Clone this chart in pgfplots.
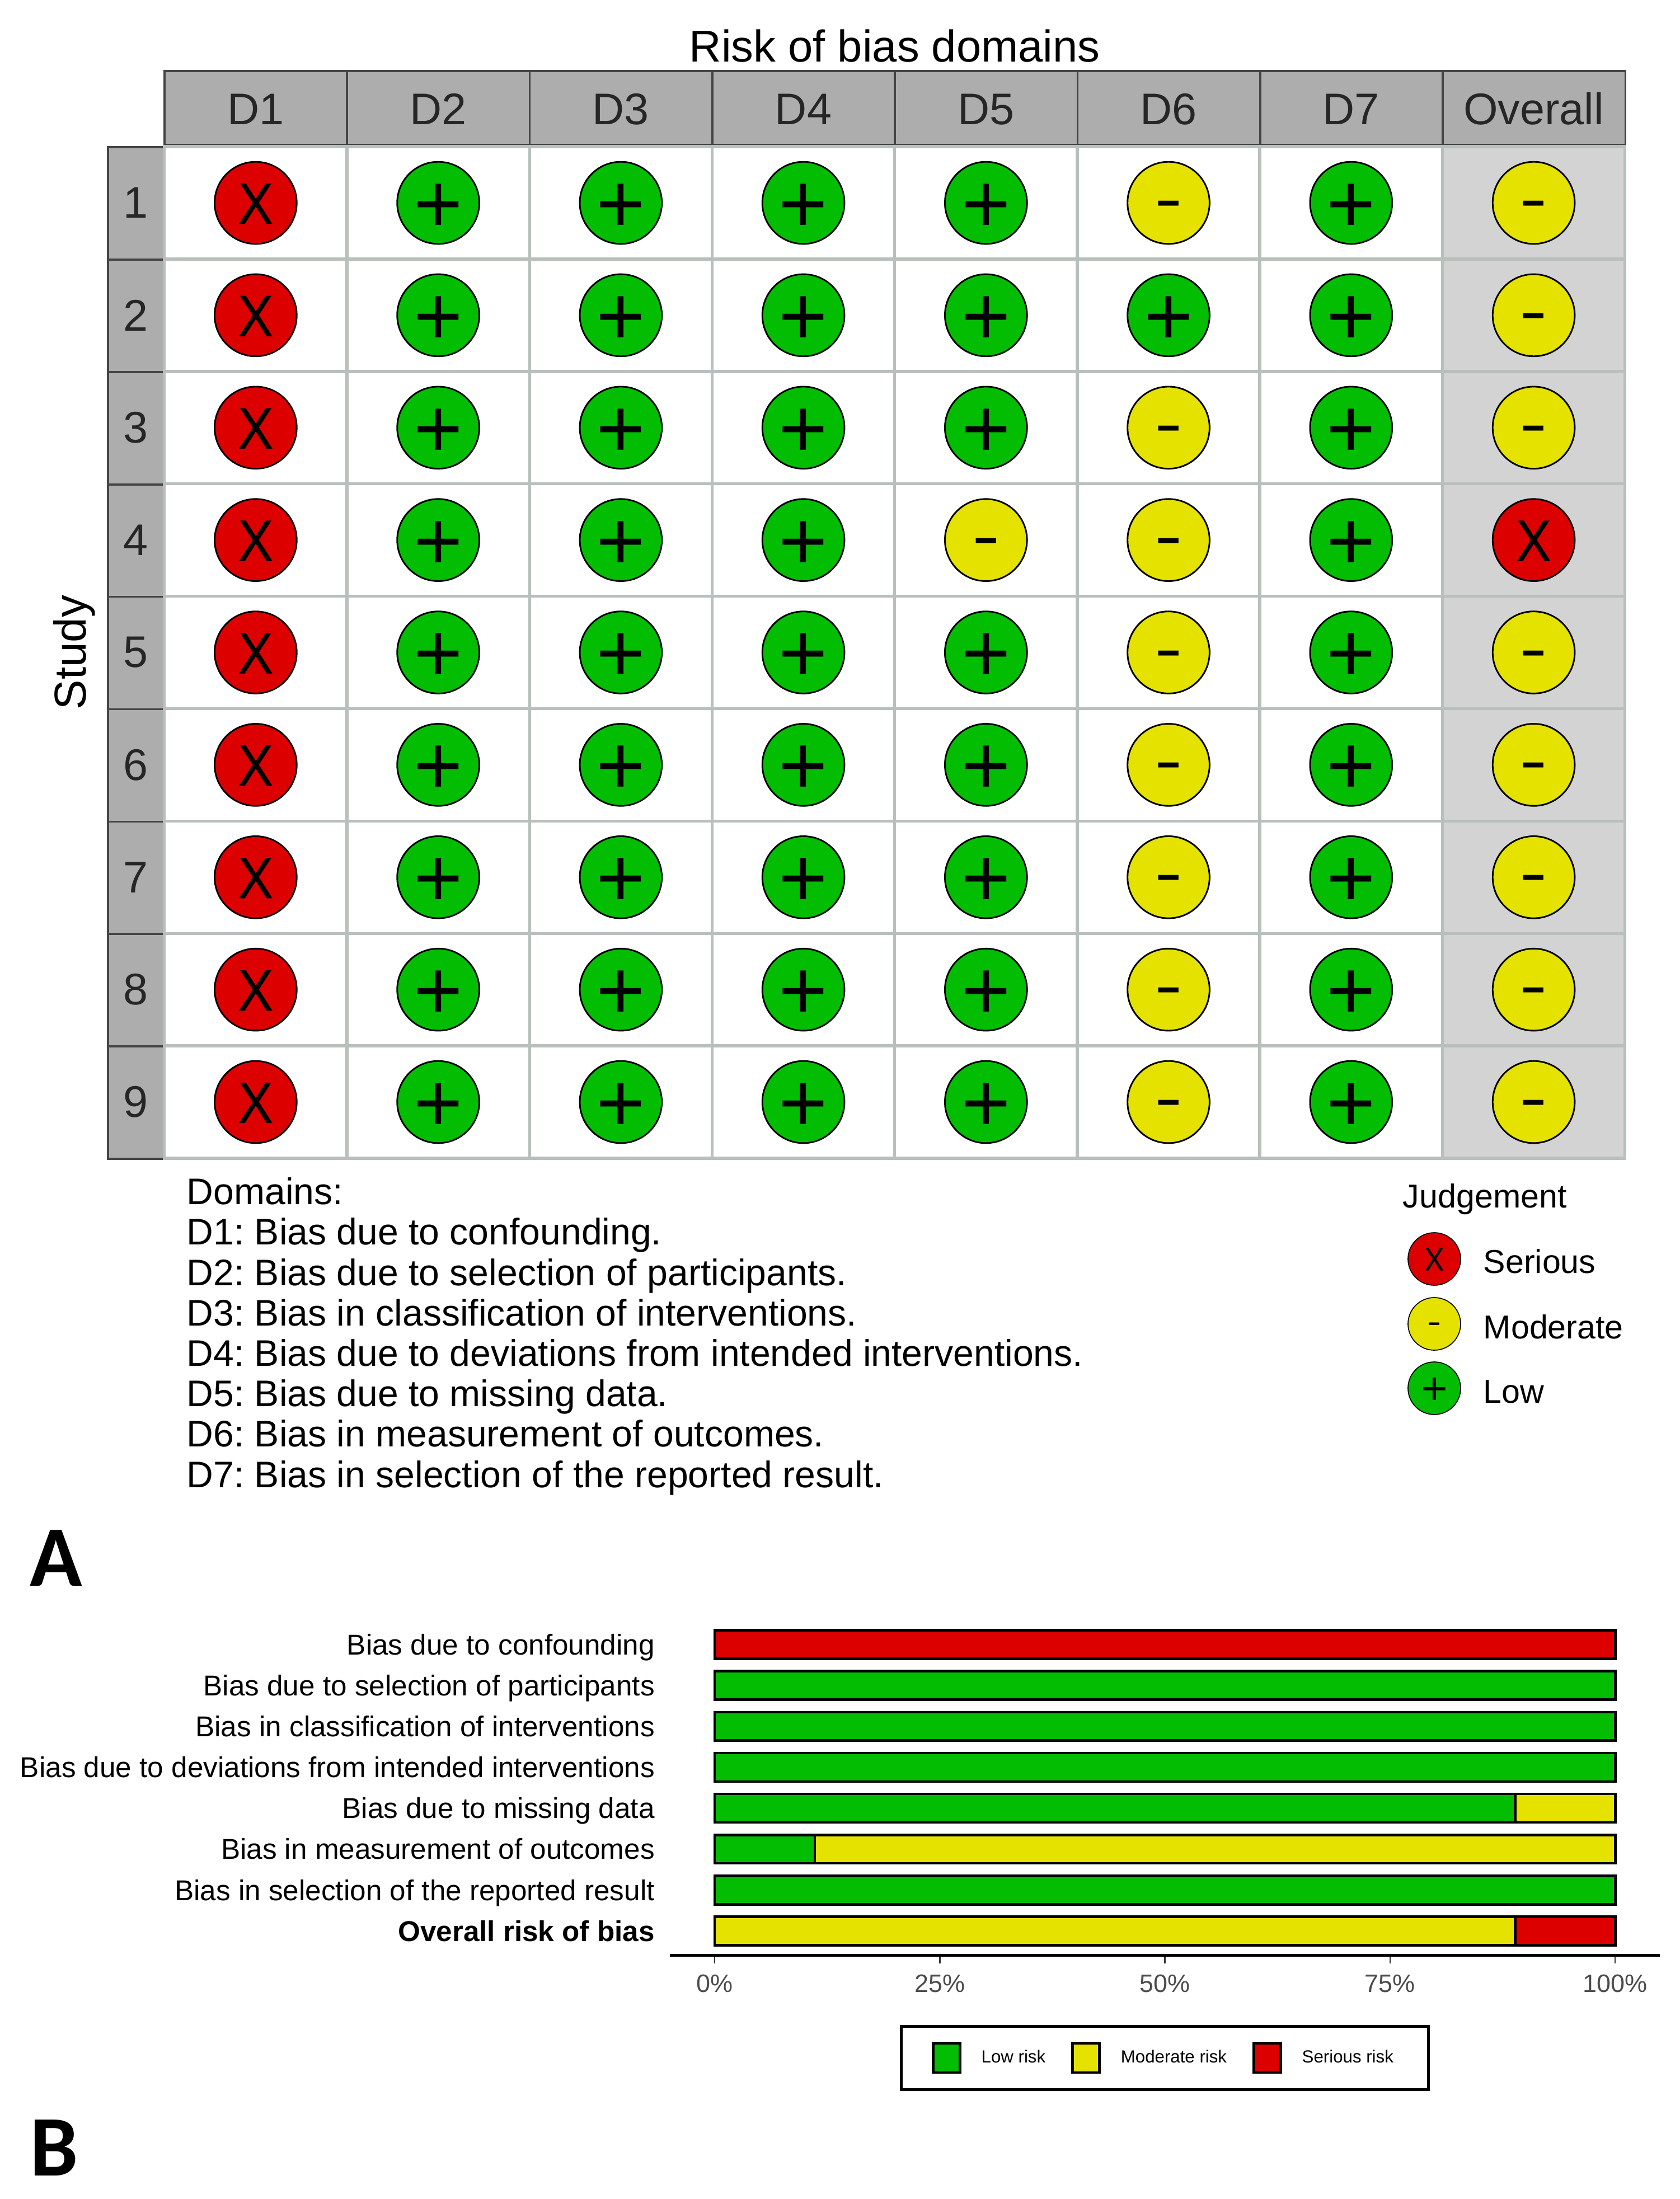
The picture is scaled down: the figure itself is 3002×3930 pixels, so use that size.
\documentclass[border=0pt]{standalone}
\usepackage{fontspec}
\setmainfont{Liberation Sans}
\newfontfamily\carlito{Carlito}
\newfontfamily\xglyph[FakeStretch=0.9,FakeBold=0.6]{Liberation Sans}
\newfontfamily\minusglyph[FakeStretch=1.32]{Liberation Sans}
\usepackage{pgfplots}
\pgfplotsset{compat=1.18}
\definecolor{rd}{HTML}{DD0000}
\definecolor{gn}{HTML}{02BD02}
\definecolor{yl}{HTML}{E5E200}
\definecolor{stripfill}{HTML}{ADADAD}
\definecolor{stripline}{HTML}{454545}
\definecolor{cellline}{HTML}{B7C0BA}
\definecolor{overallfill}{HTML}{D3D3D3}
% 1 px of the reference = 0.24pt
\pgfplotsset{
  seriousmark/.style={only marks,mark=*,mark size=17.6pt,mark options={fill=rd,draw=black,line width=0.7pt},
    nodes near coords={X},nodes near coords style={anchor=base,inner sep=0pt,yshift=-8.95pt,text=black,font=\xglyph\fontsize{25}{25}\selectfont}},
  moderatemark/.style={only marks,mark=*,mark size=17.6pt,mark options={fill=yl,draw=black,line width=0.7pt},
    nodes near coords={-},nodes near coords style={anchor=base,inner sep=0pt,yshift=-7.45pt,text=black,font=\minusglyph\fontsize{27}{27}\selectfont}},
  lowmark/.style={only marks,mark=*,mark size=17.6pt,mark options={fill=gn,draw=black,line width=0.7pt},
    nodes near coords={+},nodes near coords style={anchor=base,inner sep=0pt,yshift=-12.7pt,text=black,font=\fontsize{36}{36}\selectfont}},
}
\begin{document}
\begin{tikzpicture}
\begin{scope}[x=0.24pt,y=-0.24pt]
\path (0,0) rectangle (3002,3930);
% header and study strips
\foreach \i in {0,...,7}
  \draw[fill=stripfill,draw=stripline,line width=0.9pt] ({294+\i*326.3},127) rectangle ({294+(\i+1)*326.3},259);
\foreach \i in {0,...,8}
  \draw[fill=stripfill,draw=stripline,line width=0.9pt] (193,{263+\i*200.9}) rectangle (293,{263+(\i+1)*200.9});
\node[anchor=base west,inner sep=0pt,align=left,font=\frenchspacing\fontsize{15.86}{17.33}\selectfont] at (333,2658)
  {Domains:\\D1: Bias due to confounding.\\D2: Bias due to selection of participants.\\D3: Bias in classification of interventions.\\D4: Bias due to deviations from intended interventions.\\D5: Bias due to missing data.\\D6: Bias in measurement of outcomes.\\D7: Bias in selection of the reported result.};
\node[anchor=base west,inner sep=0pt,font=\fontsize{14.2}{16}\selectfont] at (2506,2158) {Judgement};
\node[anchor=base west,inner sep=0pt,font=\fontsize{14.2}{16}\selectfont] at (2650,2275) {Serious};
\node[anchor=base west,inner sep=0pt,font=\fontsize{14.2}{16}\selectfont] at (2650,2392) {Moderate};
\node[anchor=base west,inner sep=0pt,font=\fontsize{14.2}{16}\selectfont] at (2650,2507) {Low};
\node[anchor=base west,inner sep=0pt,font=\carlito\bfseries\fontsize{37}{37}\selectfont] at (53,2834) {A};
\node[anchor=base west,inner sep=0pt,font=\carlito\bfseries\fontsize{37}{37}\selectfont] at (53,3888) {B};
\end{scope}

% panel A: traffic light grid
\begin{axis}[
  at={(70.5pt,-62.9pt)},anchor=north west,
  scale only axis,width=626.4pt,height=433.9pt,
  xmin=-0.5,xmax=7.5,ymin=0.5,ymax=9.5,y dir=reverse,
  axis on top,clip=false,
  axis line style={draw=cellline,line width=1.3pt},
  xtick={0,...,7},xticklabels={D1,D2,D3,D4,D5,D6,D7,Overall},
  ytick={1,...,9},yticklabels={1,2,3,4,5,6,7,8,9},
  xticklabel pos=upper,
  major tick length=0pt,minor tick length=0pt,
  minor xtick={0.5,1.5,2.5,3.5,4.5,5.5,6.5},minor ytick={1.5,2.5,3.5,4.5,5.5,6.5,7.5,8.5},
  minor grid style={draw=cellline,line width=1.3pt},xminorgrids,yminorgrids,
  x tick label style={anchor=base,yshift=9.6pt,font=\fontsize{19}{19}\selectfont,text=black!85},
  y tick label style={anchor=center,xshift=-12.4pt,font=\fontsize{19}{19}\selectfont,text=black!85},
  title={Risk of bias domains},
  every axis title/.style={at={(axis description cs:0.5,1)},anchor=base,yshift=36.5pt,font=\fontsize{19.1}{19}\selectfont},
  ylabel={Study},
  every axis y label/.style={at={(axis description cs:0,0.5)},xshift=-38.6pt,rotate=90,anchor=center,font=\fontsize{19.2}{19}\selectfont},
]
\fill[overallfill] (axis cs:6.5,0.5) rectangle (axis cs:7.5,9.5);
\addplot[seriousmark] coordinates {(0,1)(0,2)(0,3)(0,4)(0,5)(0,6)(0,7)(0,8)(0,9)(7,4)};
\addplot[moderatemark] coordinates {(4,4)(5,1)(5,3)(5,4)(5,5)(5,6)(5,7)(5,8)(5,9)(7,1)(7,2)(7,3)(7,5)(7,6)(7,7)(7,8)(7,9)};
\addplot[lowmark] coordinates {(1,1)(1,2)(1,3)(1,4)(1,5)(1,6)(1,7)(1,8)(1,9)
  (2,1)(2,2)(2,3)(2,4)(2,5)(2,6)(2,7)(2,8)(2,9)
  (3,1)(3,2)(3,3)(3,4)(3,5)(3,6)(3,7)(3,8)(3,9)
  (4,1)(4,2)(4,3)(4,5)(4,6)(4,7)(4,8)(4,9)
  (5,2)
  (6,1)(6,2)(6,3)(6,4)(6,5)(6,6)(6,7)(6,8)(6,9)};
\end{axis}

% judgement legend, one hidden axis in page pixels
\begin{axis}[
  at={(0pt,-943.2pt)},anchor=south west,
  scale only axis,width=720.48pt,height=943.2pt,hide axis,clip=false,
  xmin=0,xmax=3002,ymin=0,ymax=3930,y dir=reverse,
]
\addplot[only marks,mark=*,mark size=11.28pt,mark options={fill=rd,draw=none},
  nodes near coords={X},nodes near coords style={anchor=base,inner sep=0pt,yshift=-4.9pt,text=black,font=\xglyph\fontsize{13.7}{14}\selectfont}] coordinates {(2563,2250)};
\addplot[only marks,mark=*,mark size=11.28pt,mark options={fill=yl,draw=none},
  nodes near coords={-},nodes near coords style={anchor=base,inner sep=0pt,yshift=-3.8pt,text=black,font=\minusglyph\fontsize{13.8}{14}\selectfont}] coordinates {(2563,2366)};
\addplot[only marks,mark=*,mark size=11.28pt,mark options={fill=gn,draw=none},
  nodes near coords={+},nodes near coords style={anchor=base,inner sep=0pt,yshift=-6.9pt,text=black,font=\fontsize{19.6}{14}\selectfont}] coordinates {(2563,2481)};
\end{axis}

% panel B: weighted bars
\begin{axis}[
  at={(287.3pt,-838.8pt)},anchor=south west,
  scale only axis,width=424.6pt,height=144pt,
  xbar stacked,bar width=12.2pt,
  xmin=-4.97,xmax=104.97,ymin=-0.6,ymax=7.6,y dir=reverse,
  axis x line=bottom,axis y line=left,
  x axis line style={draw=black,line width=1.2pt,-},
  y axis line style={draw=none},
  xtick={0,25,50,75,100},xticklabels={0\%,25\%,50\%,75\%,100\%},
  x tick label style={font=\fontsize{10.8}{11}\selectfont,text=black!70,yshift=-1pt},
  x tick style={draw=black!80,line width=0.6pt},
  tick align=outside,major tick length=3.4pt,
  ytick={0,...,7},
  yticklabels={Bias due to confounding,Bias due to selection of participants,Bias in classification of interventions,Bias due to deviations from intended interventions,Bias due to missing data,Bias in measurement of outcomes,Bias in selection of the reported result,\textbf{Overall risk of bias}},
  y tick style={draw=none},
  y tick label style={anchor=east,xshift=0.4pt,yshift=-1.7pt,font=\fontsize{12.3}{12}\selectfont},
  typeset ticklabels with strut,
  legend columns=3,
  legend style={at={(0.5,0)},anchor=north,yshift=-29.8pt,draw=black,line width=1.1pt,font=\fontsize{7.5}{8}\selectfont,
    inner xsep=13pt,inner ysep=6.7pt,/tikz/every even column/.append style={column sep=9pt},
    /tikz/every odd column/.append style={column sep=6.6pt}},
  legend image code/.code={\draw[#1,line width=1.1pt] (0pt,-6.3pt) rectangle (11.6pt,6.3pt);},
]
\addplot[fill=gn,draw=black,line width=1.1pt] coordinates {(0,0)(100,1)(100,2)(100,3)(88.89,4)(11.11,5)(100,6)(0,7)};
\addplot[fill=yl,draw=black,line width=1.1pt] coordinates {(0,0)(0,1)(0,2)(0,3)(11.11,4)(88.89,5)(0,6)(88.89,7)};
\addplot[fill=rd,draw=black,line width=1.1pt] coordinates {(100,0)(0,1)(0,2)(0,3)(0,4)(0,5)(0,6)(11.11,7)};
\legend{Low risk,Moderate risk,Serious risk}
\end{axis}
\end{tikzpicture}
\end{document}
